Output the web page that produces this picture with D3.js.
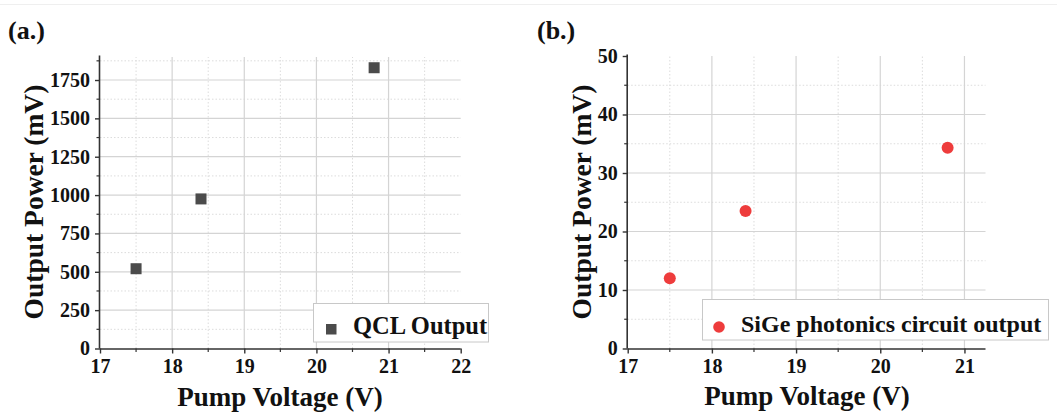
<!DOCTYPE html>
<html>
<head>
<meta charset="utf-8">
<script src="https://cdn.jsdelivr.net/npm/d3@7"></script>
<style>
  html, body { margin: 0; padding: 0; background: #fff; }
  svg { display: block; }
  text { font-family: "Liberation Serif", "Times New Roman", serif; font-weight: bold; fill: #111; }
</style>
</head>
<body>
<svg id="chart" width="1057" height="417"></svg>
<script>
// ---- Data ----
const voltageA = [17.5, 18.4, 20.8];
const qclOutput = [520, 975, 1830];
const voltageB = [17.5, 18.4, 20.8];
const sigeOutput = [12, 23.5, 34.3];

const xTicksA = [17, 18, 19, 20, 21, 22];
const yTicksA = [0, 250, 500, 750, 1000, 1250, 1500, 1750];
const xTicksB = [17, 18, 19, 20, 21];
const yTicksB = [0, 10, 20, 30, 40, 50];

const svg = d3.select("#chart");

// faint top line
svg.append("line").attr("x1", 0).attr("x2", 1057).attr("y1", 4.5).attr("y2", 4.5)
  .attr("stroke", "#efefef").attr("stroke-width", 1);

function panel(cfg) {
  const g = svg.append("g");
  const x = d3.scaleLinear().domain(cfg.xDomain).range(cfg.xRange);
  const y = d3.scaleLinear().domain(cfg.yDomain).range(cfg.yRange);
  const [x0, x1] = cfg.xRange;
  const [y0, y1] = cfg.yRange;

  // minor grid (dotted)
  g.selectAll(".vminor").data(cfg.xMinor).join("line")
    .attr("x1", d => x(d)).attr("x2", d => x(d)).attr("y1", y0).attr("y2", y1)
    .attr("stroke", "#dcdcdc").attr("stroke-width", 1).attr("stroke-dasharray", "1.5,2");
  g.selectAll(".hminor").data(cfg.yMinor).join("line")
    .attr("x1", x0).attr("x2", x1).attr("y1", d => y(d)).attr("y2", d => y(d))
    .attr("stroke", "#dcdcdc").attr("stroke-width", 1).attr("stroke-dasharray", "1.5,2");
  // major grid
  g.selectAll(".vmajor").data(cfg.xGrid).join("line")
    .attr("x1", d => x(d)).attr("x2", d => x(d)).attr("y1", y0).attr("y2", y1)
    .attr("stroke", "#d4d4d4").attr("stroke-width", 1.2);
  g.selectAll(".hmajor").data(cfg.yGrid).join("line")
    .attr("x1", x0).attr("x2", x1).attr("y1", d => y(d)).attr("y2", d => y(d))
    .attr("stroke", "#d4d4d4").attr("stroke-width", 1.2);

  // axes
  const xAxis = d3.axisBottom(x).tickValues(cfg.xTicks).tickSize(5).tickPadding(5).tickFormat(d3.format("d"));
  const yAxis = d3.axisLeft(y).tickValues(cfg.yTicks).tickSize(5).tickPadding(5).tickFormat(d3.format("d"));
  const gx = g.append("g").attr("transform", `translate(0,${y0})`).call(xAxis);
  const gy = g.append("g").attr("transform", `translate(${x0},0)`).call(yAxis);
  [gx, gy].forEach(a => {
    a.attr("font-family", null).attr("font-size", null);
    a.select(".domain").attr("stroke", "#333").attr("stroke-width", 1.6);
    a.selectAll(".tick line").attr("stroke", "#333").attr("stroke-width", 1.4);
    a.selectAll(".tick text").style("font-family", "'Liberation Serif', serif")
      .style("font-weight", "bold").style("font-size", "20px").attr("fill", "#111");
  });
  gy.select(".domain").attr("d", `M-0.5,${y0}V${y1 - 1.5}`);
  gx.select(".domain").attr("d", `M${x0},0.5H${x1}`);
  // minor ticks
  g.append("g").selectAll("line").data(cfg.xMinor).join("line")
    .attr("x1", d => x(d)).attr("x2", d => x(d)).attr("y1", y0).attr("y2", y0 + 3.5)
    .attr("stroke", "#333").attr("stroke-width", 1.2);
  g.append("g").selectAll("line").data(cfg.yMinor).join("line")
    .attr("x1", x0).attr("x2", x0 - 3.5).attr("y1", d => y(d)).attr("y2", d => y(d))
    .attr("stroke", "#333").attr("stroke-width", 1.2);

  // axis titles
  g.append("text").attr("x", cfg.xTitlePos[0]).attr("y", cfg.xTitlePos[1])
    .attr("text-anchor", "middle").style("font-size", "27px").text("Pump Voltage (V)");
  g.append("text").attr("transform", `translate(${cfg.yTitlePos[0]},${cfg.yTitlePos[1]}) rotate(-90)`)
    .attr("text-anchor", "middle").style("font-size", "27.5px").text("Output Power (mV)");
  // panel label
  g.append("text").attr("x", cfg.labelPos[0]).attr("y", cfg.labelPos[1])
    .style("font-size", "26px").text(cfg.label);

  return { g, x, y };
}

// ---- Panel (a) ----
const A = panel({
  xDomain: [17, 22], xRange: [100, 460.7],
  yDomain: [0, 1900], yRange: [348.5, 57],
  xTicks: xTicksA, yTicks: yTicksA,
  xGrid: [18, 19, 20, 21], yGrid: [250, 500, 750, 1000, 1250, 1500, 1750],
  xMinor: [17.5, 18.5, 19.5, 20.5, 21.5], yMinor: [125, 375, 625, 875, 1125, 1375, 1625, 1875],
  xTitlePos: [280, 406], yTitlePos: [43, 202], labelPos: [8, 38.5], label: "(a.)"
});

// legend (a)
A.g.append("rect").attr("x", 313.5).attr("y", 303.5).attr("width", 175).attr("height", 38.5)
  .attr("fill", "#fff").attr("stroke", "#c8c8c8").attr("stroke-width", 1);
A.g.append("rect").attr("x", 326).attr("y", 324).attr("width", 10.5).attr("height", 10.5)
  .attr("fill", "#4b4b4b");
A.g.append("text").attr("x", 353).attr("y", 334).style("font-size", "24.5px").text("QCL Output");

A.g.selectAll(".pt").data(voltageA.map((v, i) => [v, qclOutput[i]])).join("rect")
  .attr("x", d => A.x(d[0]) - 5.5).attr("y", d => A.y(d[1]) - 5.5)
  .attr("width", 11).attr("height", 11).attr("fill", "#4b4b4b");

// ---- Panel (b) ----
const B = panel({
  xDomain: [17, 21.25], xRange: [627.7, 985.5],
  yDomain: [0, 50], yRange: [348.5, 56],
  xTicks: xTicksB, yTicks: yTicksB,
  xGrid: [18, 19, 20, 21], yGrid: [10, 20, 30, 40],
  xMinor: [17.5, 18.5, 19.5, 20.5], yMinor: [5, 15, 25, 35, 45],
  xTitlePos: [807, 405], yTitlePos: [591, 202], labelPos: [537, 38.5], label: "(b.)"
});

// legend (b)
B.g.append("rect").attr("x", 702.5).attr("y", 299.5).attr("width", 346).attr("height", 40.5)
  .attr("fill", "#fff").attr("stroke", "#c8c8c8").attr("stroke-width", 1);
B.g.append("circle").attr("cx", 719).attr("cy", 327).attr("r", 5.8).attr("fill", "#ee3c3c");
B.g.append("text").attr("x", 741).attr("y", 332).style("font-size", "24px").text("SiGe photonics circuit output");

B.g.selectAll(".pt").data(voltageB.map((v, i) => [v, sigeOutput[i]])).join("circle")
  .attr("cx", d => B.x(d[0])).attr("cy", d => B.y(d[1])).attr("r", 6).attr("fill", "#ee3c3c");
</script>
</body>
</html>
